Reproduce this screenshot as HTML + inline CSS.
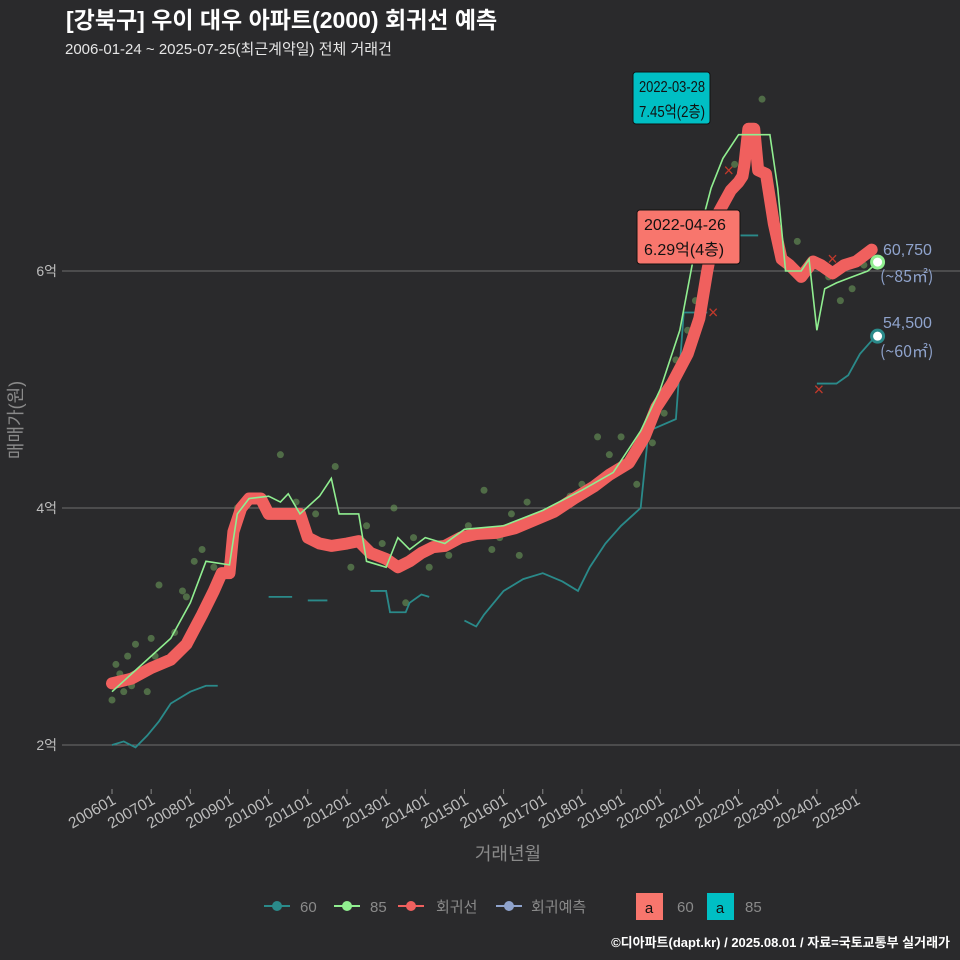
<!DOCTYPE html>
<html><head><meta charset="utf-8">
<style>
body{margin:0;background:#2a2a2c;}
svg{display:block;font-family:"Liberation Sans","Noto Sans CJK KR",sans-serif;}
.k{font-family:"Noto Sans CJK KR","Liberation Sans",sans-serif;}
</style></head>
<body>
<svg id="chart" width="960" height="960" viewBox="0 0 960 960">
<rect width="960" height="960" fill="#2a2a2c"/>
<text x="66" y="28" fill="#fff" font-size="23" font-weight="bold">[강북구] 우이 대우 아파트(2000) 회귀선 예측</text>
<text x="65" y="54" fill="#e6e6e6" font-size="15">2006-01-24 ~ 2025-07-25(최근계약일) 전체 거래건</text>
<g id="grid"></g><g id="xaxis"></g><g id="marks"></g>
<text transform="translate(22,420) rotate(-90)" text-anchor="middle" fill="#8a8a8a" font-size="18">매매가(원)</text>
<text x="508" y="860" text-anchor="middle" fill="#8a8a8a" font-size="18">거래년월</text>
<g>
<rect x="633" y="72" width="77" height="52" rx="3" fill="#00bfc4" stroke="#111"/>
<text x="639" y="92" font-size="16" fill="#111" textLength="66" lengthAdjust="spacingAndGlyphs">2022-03-28</text>
<text x="639" y="117" font-size="16" fill="#111" textLength="66" lengthAdjust="spacingAndGlyphs">7.45억(2층)</text></g>
<g>
<rect x="637" y="210" width="103" height="54" rx="3" fill="#f8766d" stroke="#111"/>
<text x="644" y="230" font-size="16" fill="#111">2022-04-26</text>
<text x="644" y="255" font-size="16" fill="#111">6.29억(4층)</text></g>
<g fill="#8fa3cc" font-size="16">
<text x="883" y="255">60,750</text><text x="880" y="282" class="k">(~85㎡)</text>
<text x="883" y="328">54,500</text><text x="880" y="357" class="k">(~60㎡)</text></g>
<g font-size="15" fill="#8a8a8a">
<g><line x1="264" x2="290" y1="906" y2="906" stroke="#2a8a8a" stroke-width="2"/><circle cx="277" cy="906" r="5" fill="#2a8a8a"/><text x="300" y="912">60</text></g>
<g><line x1="334" x2="360" y1="906" y2="906" stroke="#90ee90" stroke-width="2"/><circle cx="347" cy="906" r="5" fill="#90ee90"/><text x="370" y="912">85</text></g>
<g><line x1="398" x2="424" y1="906" y2="906" stroke="#f0605e" stroke-width="2"/><circle cx="411" cy="906" r="5" fill="#f0605e"/><text x="436" y="912">회귀선</text></g>
<g><line x1="496" x2="522" y1="906" y2="906" stroke="#8fa3cc" stroke-width="2"/><circle cx="509" cy="906" r="5" fill="#8fa3cc"/><text x="531" y="912">회귀예측</text></g>
<g><rect x="636" y="893" width="27" height="27" fill="#f8766d"/><text x="649" y="913" text-anchor="middle" fill="#111">a</text><text x="677" y="912">60</text></g>
<g><rect x="707" y="893" width="27" height="27" fill="#00bfc4"/><text x="720" y="913" text-anchor="middle" fill="#111">a</text><text x="745" y="912">85</text></g>
</g>
<text x="950" y="947" text-anchor="end" fill="#fff" font-size="13" font-weight="bold">©디아파트(dapt.kr) / 2025.08.01 / 자료=국토교통부 실거래가</text>
</svg>
<script>
const yTicks=[2,4,6];
const xTickLabels=["200601","200701","200801","200901","201001","201101","201201","201301","201401","201501","201601","201701","201801","201901","202001","202101","202201","202301","202401","202501"];
const regT=[2006.0,2006.5,2007.0,2007.5,2007.9,2008.3,2008.6,2008.8,2009.0,2009.1,2009.3,2009.5,2009.8,2010.0,2010.8,2011.0,2011.3,2011.6,2012.0,2012.3,2012.6,2013.0,2013.3,2013.6,2013.9,2014.2,2014.5,2014.9,2015.3,2015.8,2016.3,2016.8,2017.3,2017.8,2018.3,2018.7,2019.2,2019.6,2019.9,2020.3,2020.7,2021.0,2021.2,2021.5,2021.8,2022.0,2022.1,2022.15,2022.25,2022.4,2022.5,2022.7,2022.9,2023.1,2023.3,2023.6,2023.9,2024.1,2024.4,2024.7,2025.0,2025.4];
const regV=[2.52,2.56,2.65,2.72,2.85,3.1,3.3,3.45,3.45,3.8,4.0,4.08,4.08,3.95,3.95,3.75,3.7,3.68,3.7,3.72,3.62,3.57,3.5,3.55,3.62,3.67,3.68,3.75,3.78,3.79,3.83,3.9,3.97,4.08,4.18,4.28,4.38,4.6,4.85,5.05,5.3,5.6,6.0,6.5,6.68,6.75,6.8,6.9,7.2,7.2,6.85,6.82,6.4,6.1,6.05,5.95,6.08,6.05,5.98,6.05,6.08,6.18];
const s85T=[2006.0,2006.5,2007.0,2007.5,2008.0,2008.4,2009.0,2009.2,2009.5,2010.0,2010.3,2010.5,2010.8,2011.3,2011.6,2011.8,2012.3,2012.5,2013.0,2013.3,2013.6,2014.0,2014.5,2015.0,2016.0,2017.0,2018.0,2018.8,2019.5,2020.0,2020.5,2020.9,2021.3,2021.6,2022.0,2022.8,2023.0,2023.2,2023.6,2023.8,2024.0,2024.2,2024.5,2024.9,2025.3,2025.55];
const s85V=[2.45,2.6,2.75,2.9,3.2,3.55,3.52,3.95,4.08,4.1,4.05,4.12,3.95,4.1,4.25,3.95,3.95,3.55,3.5,3.75,3.65,3.75,3.7,3.82,3.85,3.98,4.15,4.3,4.65,5.0,5.5,6.2,6.7,6.95,7.15,7.15,6.7,6.0,6.0,6.1,5.5,5.85,5.9,5.95,6.0,6.075];
const s60Segs=[
 [[2006.0,2.0],[2006.3,2.03],[2006.6,1.98],[2006.9,2.08],[2007.2,2.2],[2007.5,2.35],[2008.0,2.45],[2008.4,2.5],[2008.7,2.5]],
 [[2010.0,3.25],[2010.6,3.25]],[[2011.0,3.22],[2011.5,3.22]],
 [[2012.6,3.3],[2013.0,3.3],[2013.1,3.12],[2013.5,3.12],[2013.6,3.2],[2013.9,3.27],[2014.1,3.25]],
 [[2015.0,3.05],[2015.3,3.0],[2015.5,3.1],[2016.0,3.3],[2016.5,3.4],[2017.0,3.45],[2017.5,3.38],[2017.9,3.3],[2018.2,3.5],[2018.6,3.7],[2019.0,3.85],[2019.5,4.0],[2019.7,4.65],[2020.4,4.75],[2020.6,5.65],[2021.2,5.65]],
 [[2022.0,6.3],[2022.5,6.3]],
 [[2024.0,5.05],[2024.5,5.05],[2024.8,5.12],[2025.1,5.3],[2025.5,5.45]]];
const ptT=[2006.0,2006.1,2006.2,2006.3,2006.4,2006.5,2006.6,2006.8,2006.9,2007.0,2007.1,2007.2,2007.4,2007.6,2007.8,2007.9,2008.1,2008.3,2008.6,2009.2,2009.6,2010.3,2010.7,2011.2,2011.7,2012.1,2012.5,2012.9,2013.2,2013.5,2013.7,2014.1,2014.6,2015.1,2015.5,2015.7,2015.9,2016.2,2016.4,2016.6,2016.9,2017.3,2017.7,2018.0,2018.4,2018.7,2019.0,2019.4,2019.8,2020.1,2020.4,2020.7,2020.9,2021.2,2021.5,2021.9,2022.2,2022.6,2023.5,2023.9,2024.3,2024.6,2024.9,2025.2];
const ptV=[2.38,2.68,2.6,2.45,2.75,2.5,2.85,2.6,2.45,2.9,2.75,3.35,2.7,2.95,3.3,3.25,3.55,3.65,3.5,4.0,4.1,4.45,4.05,3.95,4.35,3.5,3.85,3.7,4.0,3.2,3.75,3.5,3.6,3.85,4.15,3.65,3.75,3.95,3.6,4.05,3.9,3.95,4.1,4.2,4.6,4.45,4.6,4.2,4.55,4.8,5.25,5.5,5.75,6.05,6.5,6.9,7.05,7.45,6.25,6.05,5.95,5.75,5.85,6.05];
const fcT=[2021.35,2024.05,2021.75,2024.4];
const fcV=[5.65,5.0,6.85,6.1];
const X=t=>112+(t-2006.0)*39.16, Y=v=>745-(v-2)*118.5;
const NS="http://www.w3.org/2000/svg";
function mk(tag,attrs,parent){const e=document.createElementNS(NS,tag);for(const k in attrs)e.setAttribute(k,attrs[k]);parent.appendChild(e);return e;}
const grid=document.getElementById('grid'),xa=document.getElementById('xaxis'),mg=document.getElementById('marks');
yTicks.forEach(v=>{
 const l=mk('line',{x1:62,x2:960,y1:Y(v),y2:Y(v),stroke:'#6e6e6e','stroke-width':1},grid);
 
 
 const t=mk('text',{x:57,y:Y(v)+5,'text-anchor':'end',fill:'#bdbdbd','font-size':14},grid);
 t.textContent=v+'억';
 
 
});
xTickLabels.forEach((s,i)=>{
 const x=X(2006+i);
 const tk=mk('line',{x1:x,x2:x,y1:789,y2:794,stroke:'#888'},xa);
 
 
 const t=mk('text',{transform:`translate(${x+5},${803}) rotate(-30)`,'text-anchor':'end',fill:'#bdbdbd','font-size':15.5},xa);
 t.textContent=s;
 
 
});
ptT.forEach((t,i)=>{
 const c=mk('circle',{cx:X(t),cy:Y(ptV[i]),r:3.5,fill:'#6a9a5a','fill-opacity':0.6},mg);
 
 
});
s60Segs.forEach(seg=>{
 const p=mk('polyline',{points:seg.map(q=>X(q[0])+','+Y(q[1])).join(' '),fill:'none',stroke:'#2a8a8a','stroke-width':1.8},mg);
 
 
});
const rl=mk('polyline',{points:regT.map((t,i)=>X(t)+','+Y(regV[i])).join(' '),fill:'none',stroke:'#f0605e','stroke-width':12,'stroke-linejoin':'round','stroke-linecap':'round'},mg);


const gl=mk('polyline',{points:s85T.map((t,i)=>X(t)+','+Y(s85V[i])).join(' '),fill:'none',stroke:'#90ee90','stroke-width':1.6},mg);


fcT.forEach((t,i)=>{
 const g=mk('text',{x:X(t),y:Y(fcV[i])+6,'text-anchor':'middle',fill:'#c0392b','font-size':18},mg);
 g.textContent='×';
 
 
});
const e1=mk('circle',{cx:X(2025.55),cy:Y(6.075),r:6,fill:'#fff',stroke:'#90ee90','stroke-width':3},mg);


const e2=mk('circle',{cx:X(2025.55),cy:Y(5.45),r:6,fill:'#fff',stroke:'#2a8a8a','stroke-width':3},mg);


</script>
</body></html>
